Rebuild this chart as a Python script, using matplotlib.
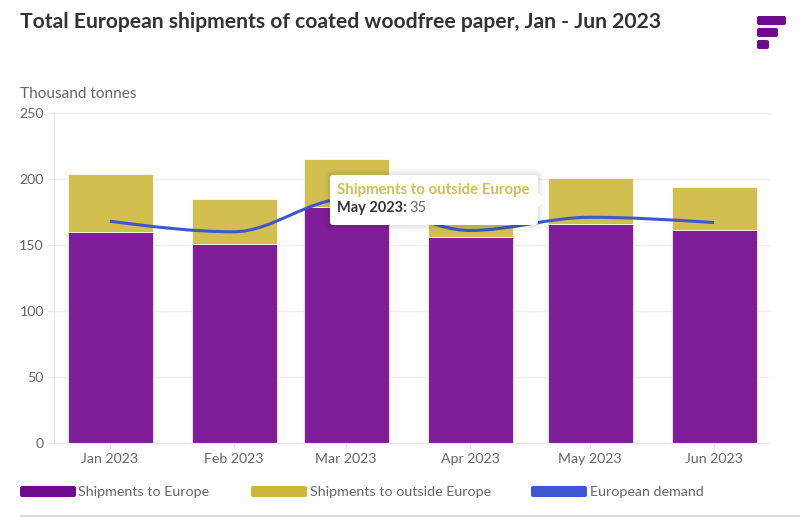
import datetime as dt
import matplotlib
matplotlib.use("Agg")
import matplotlib.pyplot as plt
import matplotlib.dates as mdates
from matplotlib.patches import FancyBboxPatch, Polygon, Rectangle, PathPatch
from matplotlib.path import Path
import numpy as np

months = ["2023-01-01", "2023-02-01", "2023-03-01", "2023-04-01", "2023-05-01", "2023-06-01"]
month_labels = ["Jan 2023", "Feb 2023", "Mar 2023", "Apr 2023", "May 2023", "Jun 2023"]
to_europe = [160, 151, 179, 156, 166, 161]
to_outside = [44, 34, 36, 26, 35, 33]
demand = [168, 160, 185, 161, 171, 167]
yticks = [0, 50, 100, 150, 200, 250]

W, H = 811, 532
PURPLE = "#7f1e98"
YELLOW = "#d3bf50"
BLUE = "#3d57cf"
GREY = "#666666"

plt.rcParams["font.family"] = ["Lato", "DejaVu Sans"]


def monotone_path(x, y):
    # same curve as a monotone-x line, written as bezier segments
    x = np.array(x, dtype=float)
    y = np.array(y, dtype=float)
    h = np.diff(x)
    s = np.diff(y) / h
    m = np.zeros(len(x))
    for i in range(1, len(x) - 1):
        if s[i - 1] * s[i] > 0:
            m[i] = 3 * (h[i - 1] + h[i]) / ((2 * h[i] + h[i - 1]) / s[i - 1] + (h[i] + 2 * h[i - 1]) / s[i])
    m[0] = (3 * s[0] - m[1]) / 2
    m[-1] = (3 * s[-1] - m[-2]) / 2
    verts = [(x[0], y[0])]
    codes = [Path.MOVETO]
    for i in range(len(h)):
        verts += [(x[i] + h[i] / 3, y[i] + m[i] * h[i] / 3),
                  (x[i + 1] - h[i] / 3, y[i + 1] - m[i + 1] * h[i] / 3),
                  (x[i + 1], y[i + 1])]
        codes += [Path.CURVE4] * 3
    return Path(verts, codes)


def box(x0, y0, x1, y1, color, rad=2, **kw):
    # rounded rectangle, in image pixels on the overlay
    p = FancyBboxPatch((x0 + rad, y0 + rad), x1 - x0 - 2 * rad, y1 - y0 - 2 * rad,
                       boxstyle="round,pad=%f,rounding_size=%f" % (rad, rad),
                       fc=color, ec="none", **kw)
    over.add_patch(p)
    return p


fig = plt.figure(figsize=(W / 100, H / 100), dpi=100)
ax = fig.add_axes([54 / W, 1 - 443 / H, (770 - 54) / W, (443 - 113) / H])

# overlay in image pixels for the logo, legend and tooltip
over = fig.add_axes([0, 0, 1, 1], zorder=5)
over.set_xlim(0, W)
over.set_ylim(H, 0)
over.axis("off")

dates = [dt.datetime.strptime(m, "%Y-%m-%d") for m in months]
xs = mdates.date2num(dates)
bar_width = 21.25

ax.bar(xs, to_europe, width=bar_width, color=PURPLE, edgecolor="white", linewidth=0.5, zorder=2)
ax.bar(xs, to_outside, width=bar_width, bottom=to_europe, color=YELLOW, edgecolor="white", linewidth=0.5, zorder=2)
ax.add_patch(PathPatch(monotone_path(xs, demand), fc="none", ec=BLUE, lw=2.2, zorder=3))

ax.set_xlim(xs[0] - 14, xs[0] + 165)
ax.set_ylim(0, 250)
ax.set_xticks(xs)
ax.set_xticklabels(month_labels)
ax.set_yticks(yticks)
ax.grid(axis="y", color="#eeeeee", lw=1, zorder=0)
ax.set_axisbelow(True)
ax.tick_params(axis="x", color="#e6e6e6", length=4.3, width=1, labelcolor=GREY, labelsize=10.2, pad=3)
ax.tick_params(axis="y", color="#e6e6e6", length=4.3, width=1, labelcolor=GREY, labelsize=10.2, pad=3)
for side in ["top", "right"]:
    ax.spines[side].set_visible(False)
for side in ["left", "bottom"]:
    ax.spines[side].set_color("#e6e6e6")

over.text(20, 22, "Total European shipments of coated woodfree paper, Jan - Jun 2023",
          fontsize=15.2, fontweight="bold", color="#333333", va="center")
over.text(20, 94.5, "Thousand tonnes", fontsize=11.1, color=GREY, va="center")

# logo
box(757, 16, 786, 25, "#6e0a8c")
box(757, 28, 778, 37, "#6e0a8c")
box(757, 40, 769, 49, "#6e0a8c")

# legend
legend_items = [("Shipments to Europe", 20, 76, "#6e0a8c"),
                ("Shipments to outside Europe", 251, 307, "#cdb638"),
                ("European demand", 531, 587, BLUE)]
for name, x0, x1, col in legend_items:
    box(x0, 486, x1, 497, col)
    over.text(x1 + 2.5, 491.5, name, fontsize=10.3, color=GREY, va="center")

# rule under the legend
over.add_patch(Rectangle((20, 515), 780, 2, fc="#dddddd", ec="none"))

# tooltip
for grow, alpha in [(6, 0.02), (4, 0.03), (2, 0.04)]:
    box(330 - grow, 175 - grow, 538 + grow, 225 + grow, "black", rad=3 + grow, alpha=alpha)
box(330, 175, 538, 225, "white", rad=3)
over.add_patch(Polygon([(537, 192), (546, 200), (537, 208)], fc="white", ec="none"))
over.text(337, 190, "Shipments to outside Europe", fontsize=10.8, fontweight="bold", color=YELLOW, va="center")
over.text(337, 208, "May 2023:", fontsize=10.5, fontweight="bold", color="#333333", va="center")
over.text(409, 208, "35", fontsize=10.5, color=GREY, va="center")

fig.savefig("out.png", dpi=100)
